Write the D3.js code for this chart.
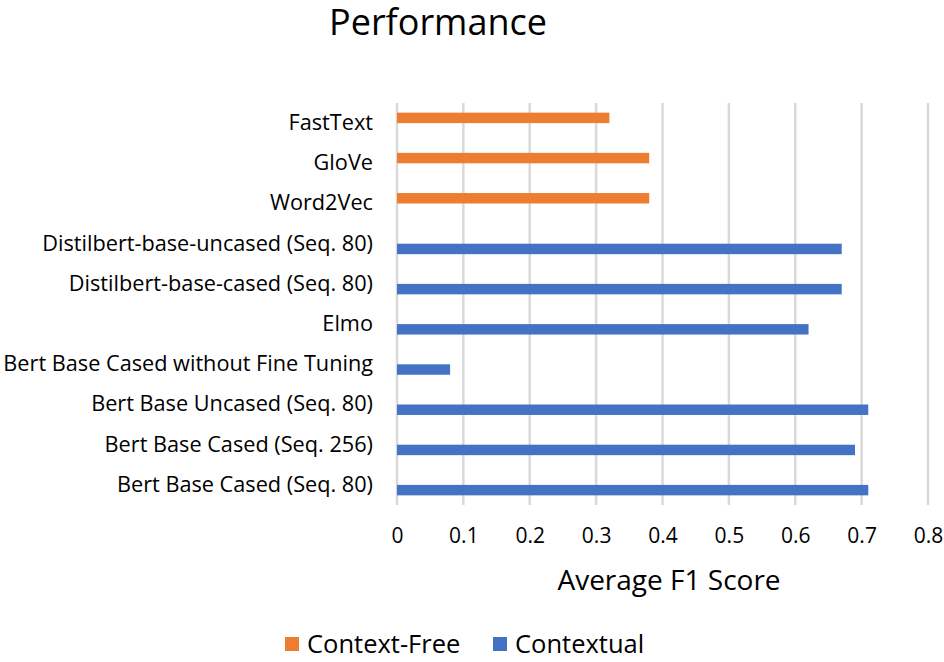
<!DOCTYPE html>
<html>
<head>
<meta charset="utf-8">
<script src="https://cdn.jsdelivr.net/npm/d3@7"></script>
<style>
  body { margin: 0; background: #fff; }
  text { font-family: "Open Sans", sans-serif; fill: #000; }
</style>
</head>
<body>
<div id="chart"></div>
<script>
var svgWidth = 944;
var svgHeight = 662;

// data, top to bottom as drawn
var categories = [
  "FastText",
  "GloVe",
  "Word2Vec",
  "Distilbert-base-uncased (Seq. 80)",
  "Distilbert-base-cased (Seq. 80)",
  "Elmo",
  "Bert Base Cased without Fine Tuning",
  "Bert Base Uncased (Seq. 80)",
  "Bert Base Cased (Seq. 256)",
  "Bert Base Cased (Seq. 80)"
];
var seriesNames = ["Context-Free", "Contextual"];
var contextFree = [0.32, 0.38, 0.38, null, null, null, null, null, null, null];
var contextual = [null, null, null, 0.67, 0.67, 0.62, 0.08, 0.71, 0.69, 0.71];
var xTicks = [0, 0.1, 0.2, 0.3, 0.4, 0.5, 0.6, 0.7, 0.8];
var colors = ["#ED7D31", "#4472C4"];

var margin = { top: 103, right: 12, bottom: 157, left: 397 };
var width = svgWidth - margin.left - margin.right;
var height = svgHeight - margin.top - margin.bottom;

var svg = d3.select("#chart")
  .append("svg")
  .attr("width", svgWidth)
  .attr("height", svgHeight);

var chartGroup = svg.append("g")
  .attr("transform", `translate(${margin.left}, ${margin.top})`);

var xScale = d3.scaleLinear()
  .domain([0, 0.8])
  .range([0, 531]);

var yScale = d3.scaleBand()
  .domain(categories)
  .range([0, height])
  .paddingInner(0.48)
  .paddingOuter(0.24);

var ySub = d3.scaleBand()
  .domain(seriesNames)
  .range([0, yScale.bandwidth()]);

// gridlines
chartGroup.selectAll("line.grid")
  .data(xTicks)
  .enter()
  .append("line")
  .attr("class", "grid")
  .attr("x1", d => xScale(d))
  .attr("x2", d => xScale(d))
  .attr("y1", 0)
  .attr("y2", height)
  .attr("stroke", "#d9d9d9")
  .attr("stroke-width", 2.5);

// bars
var rows = [];
categories.forEach(function(c, i) {
  if (contextFree[i] != null) rows.push({ cat: c, series: seriesNames[0], value: contextFree[i] });
  if (contextual[i] != null) rows.push({ cat: c, series: seriesNames[1], value: contextual[i] });
});

chartGroup.selectAll("rect.bar")
  .data(rows)
  .enter()
  .append("rect")
  .attr("class", "bar")
  .attr("x", xScale(0))
  .attr("y", d => yScale(d.cat) + ySub(d.series))
  .attr("width", d => xScale(d.value) - xScale(0))
  .attr("height", ySub.bandwidth())
  .attr("fill", d => colors[seriesNames.indexOf(d.series)]);

// category labels
var leftAxis = d3.axisLeft(yScale).tickSize(0).tickPadding(24);
var yAxisG = chartGroup.append("g").call(leftAxis);
yAxisG.select(".domain").remove();
yAxisG.selectAll("text")
  .attr("font-size", "21.7px")
  .attr("font-family", "'Open Sans', sans-serif")
  .attr("fill", "#000");

// value axis
var bottomAxis = d3.axisBottom(xScale).tickValues(xTicks).tickSize(0).tickPadding(23)
  .tickFormat(d => d === 0 ? "0" : d3.format(".1f")(d));
var xAxisG = chartGroup.append("g")
  .attr("transform", `translate(0, ${height})`)
  .call(bottomAxis);
xAxisG.select(".domain").remove();
xAxisG.selectAll("text")
  .attr("font-size", "21px")
  .attr("font-family", "'Open Sans', sans-serif")
  .attr("fill", "#000");

// title
svg.append("text")
  .attr("x", 438)
  .attr("y", 35)
  .attr("text-anchor", "middle")
  .attr("font-size", "36px")
  .text("Performance");

// axis title
svg.append("text")
  .attr("x", 669)
  .attr("y", 590)
  .attr("text-anchor", "middle")
  .attr("font-size", "28px")
  .text("Average F1 Score");

// legend
var legendX = [285, 493];
var legend = svg.selectAll("g.legend")
  .data(seriesNames)
  .enter()
  .append("g")
  .attr("class", "legend")
  .attr("transform", (d, i) => `translate(${legendX[i]}, 637)`);
legend.append("rect")
  .attr("width", 14)
  .attr("height", 14)
  .attr("fill", (d, i) => colors[i]);
legend.append("text")
  .attr("x", 22)
  .attr("y", 16)
  .attr("font-size", "25.5px")
  .text(d => d);
</script>
</body>
</html>
